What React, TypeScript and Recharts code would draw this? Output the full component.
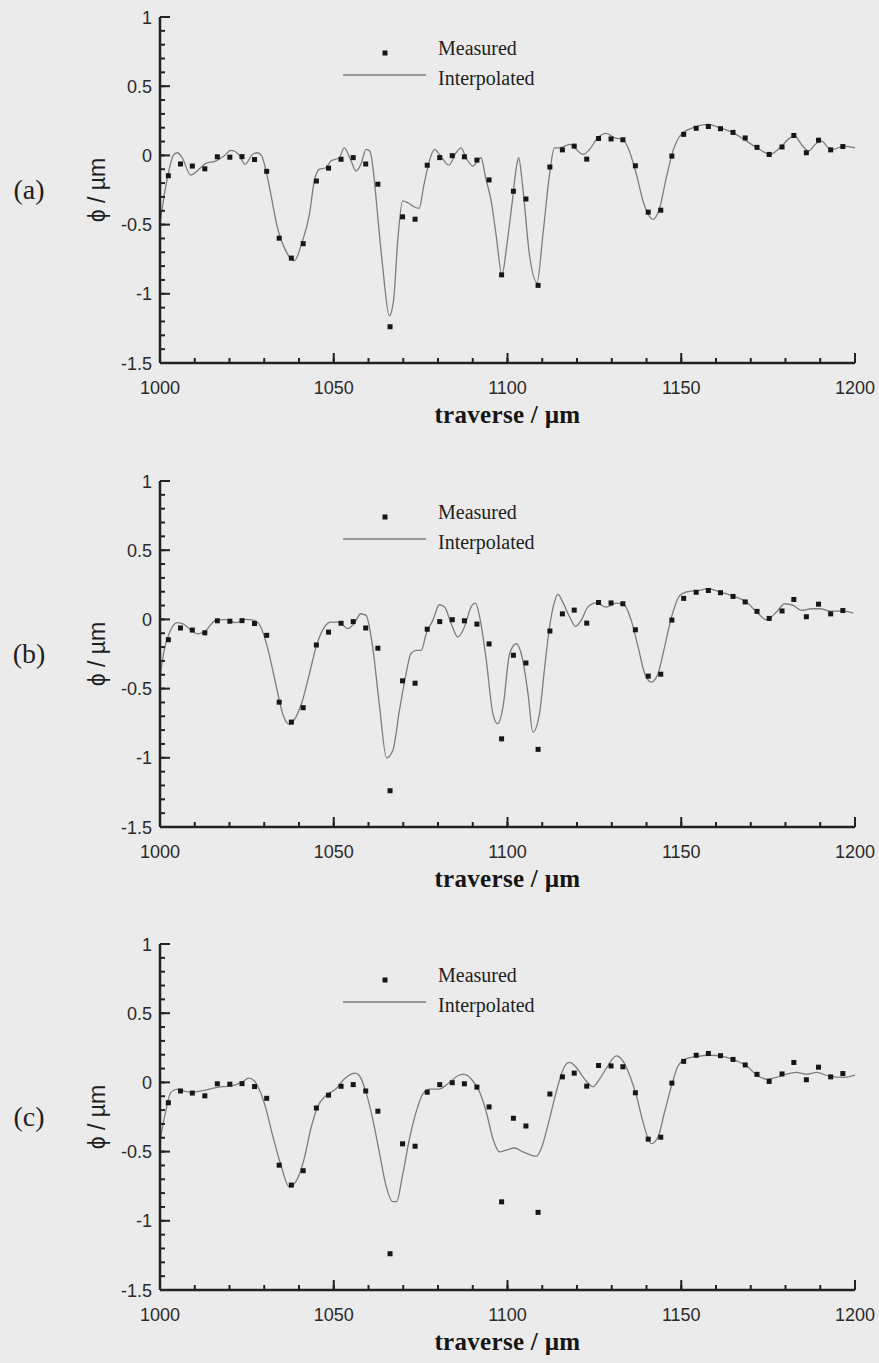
import React from 'react';
import {
    ComposedChart,
    Line,
    Scatter,
    XAxis,
    YAxis,
    Customized,
} from 'recharts';

// measured profile points (same in all three panels)
const traverse = [
    1002.4, 1005.9, 1009.3, 1012.9, 1016.5, 1020.1, 1023.6, 1027.2, 1030.7, 1034.3,
    1037.8, 1041.2, 1045.0, 1048.5, 1052.1, 1055.6, 1059.2, 1062.7, 1066.2, 1069.8,
    1073.4, 1076.9, 1080.5, 1084.1, 1087.6, 1091.2, 1094.7, 1098.3, 1101.7, 1105.3,
    1108.8, 1112.2, 1115.8, 1119.2, 1122.8, 1126.2, 1129.8, 1133.2, 1136.8, 1140.5,
    1144.1, 1147.3, 1150.7, 1154.3, 1157.8, 1161.3, 1164.9, 1168.4, 1171.8, 1175.3,
    1179.0, 1182.4, 1186.0, 1189.5, 1193.0, 1196.5,
];
const measured = [
    -0.147, -0.062, -0.077, -0.097, -0.01, -0.013, -0.009, -0.03, -0.115, -0.598,
    -0.742, -0.638, -0.185, -0.092, -0.028, -0.016, -0.062, -0.208, -1.238, -0.444,
    -0.461, -0.071, -0.016, -0.002, -0.01, -0.034, -0.177, -0.863, -0.259, -0.315,
    -0.939, -0.084, 0.04, 0.067, -0.027, 0.122, 0.119, 0.113, -0.075, -0.41,
    -0.396, -0.005, 0.152, 0.196, 0.209, 0.193, 0.166, 0.126, 0.058, 0.007,
    0.061, 0.144, 0.019, 0.11, 0.04, 0.064,
];

// interpolated curves, [traverse, phi]
const curveA: [number, number][] = [
    [1000, -0.49], [1001.6, -0.233], [1004.0, 0.007], [1005.0, 0.019], [1006.4, -0.017],
    [1008.8, -0.142], [1011.7, -0.089], [1013.2, -0.058], [1016.0, -0.041], [1018.4, -0.005],
    [1020.4, 0.036], [1022.8, 0.002], [1024.5, -0.065], [1026.6, 0.007], [1028.1, 0.019],
    [1029.3, -0.005], [1030.3, -0.089], [1031.9, -0.281], [1033.8, -0.522], [1036.2, -0.69],
    [1038.6, -0.762], [1041.0, -0.618], [1043.0, -0.426], [1044.4, -0.185], [1045.8, -0.101],
    [1047.7, -0.089], [1049.2, -0.041], [1051.6, -0.017], [1053.0, 0.055], [1055.0, -0.041],
    [1056.4, -0.113], [1057.8, -0.065], [1059.3, 0.043], [1060.4, 0.031], [1061.5, -0.137],
    [1062.6, -0.426], [1064.1, -0.81], [1066.0, -1.159], [1067.2, -1.051], [1068.4, -0.618],
    [1069.8, -0.329], [1071.3, -0.342], [1073.2, -0.373], [1074.6, -0.382], [1075.8, -0.233],
    [1077.5, -0.041], [1079.0, 0.043], [1080.4, 0.007], [1083.1, -0.07], [1085.2, 0.019],
    [1086.6, 0.055], [1088.1, -0.017], [1090.0, -0.077], [1092.4, -0.017], [1093.7, -0.161],
    [1095.3, -0.329], [1096.7, -0.57], [1098.4, -0.863], [1099.8, -0.65], [1101.3, -0.35],
    [1102.6, -0.08], [1103.2, -0.017], [1104.4, -0.233], [1106.3, -0.714], [1108.5, -0.919],
    [1110.2, -0.57], [1112.1, -0.137], [1113.5, 0.055], [1115.0, 0.055], [1117.9, 0.079],
    [1119.3, 0.055], [1121.7, 0.007], [1123.6, 0.043], [1126.0, 0.127], [1128.4, 0.159],
    [1130.8, 0.127], [1133.2, 0.115], [1134.7, 0.055], [1137.1, -0.137], [1139.0, -0.329],
    [1141.9, -0.462], [1143.8, -0.378], [1145.7, -0.161], [1147.6, 0.031], [1150.0, 0.152],
    [1153.4, 0.2], [1157.7, 0.224], [1161.1, 0.2], [1164.9, 0.164], [1168.8, 0.103],
    [1172.6, 0.043], [1175.5, 0.007], [1178.4, 0.055], [1181.3, 0.127], [1182.7, 0.139],
    [1184.6, 0.079], [1186.6, 0.031], [1188.5, 0.079], [1190.4, 0.103], [1192.3, 0.055],
    [1193.8, 0.043], [1196.6, 0.067], [1200.0, 0.055],
];

const curveB: [number, number][] = [
    [1000, -0.42], [1001.2, -0.224], [1002.6, -0.104], [1005.0, -0.024], [1006.4, -0.031],
    [1010.8, -0.104], [1013.2, -0.08], [1016.0, -0.007], [1018.9, -0.002], [1021.8, -0.024],
    [1024.7, 0.0], [1027.1, -0.007], [1029.0, -0.055], [1030.9, -0.2], [1033.3, -0.465],
    [1035.3, -0.682], [1037.2, -0.759], [1039.1, -0.706], [1041.0, -0.586], [1043.0, -0.393],
    [1044.9, -0.2], [1047.3, -0.055], [1049.2, -0.019], [1051.6, -0.019], [1054.0, -0.067],
    [1055.9, -0.027], [1057.8, 0.041], [1059.3, 0.029], [1061.2, -0.2], [1063.1, -0.61],
    [1065.2, -1.0], [1067.0, -0.947], [1068.9, -0.658], [1070.8, -0.393], [1072.2, -0.248],
    [1073.7, -0.224], [1075.2, -0.224], [1076.6, -0.104], [1078.5, -0.007], [1080.4, 0.106],
    [1081.9, 0.089], [1083.8, -0.031], [1085.7, -0.128], [1087.6, -0.055], [1089.5, 0.089],
    [1090.8, 0.118], [1092.0, 0.017], [1093.9, -0.296], [1095.8, -0.682], [1097.2, -0.754],
    [1098.7, -0.634], [1100.6, -0.248], [1102.5, -0.176], [1104.4, -0.296], [1105.9, -0.537],
    [1107.3, -0.814], [1109.2, -0.682], [1110.7, -0.345], [1112.1, -0.055], [1113.5, 0.125],
    [1114.5, 0.181], [1115.9, 0.125], [1117.9, 0.017], [1119.6, -0.051], [1121.2, -0.007],
    [1123.1, 0.089], [1125.5, 0.12], [1128.4, 0.089], [1131.3, 0.118], [1133.7, 0.101],
    [1135.6, -0.007], [1137.6, -0.2], [1139.5, -0.393], [1141.4, -0.453], [1143.3, -0.393],
    [1145.2, -0.2], [1147.2, 0.017], [1149.6, 0.173], [1151.5, 0.198], [1155.3, 0.21],
    [1157.7, 0.222], [1161.1, 0.198], [1164.9, 0.169], [1168.8, 0.125], [1171.7, 0.053],
    [1174.5, -0.002], [1177.4, 0.053], [1179.8, 0.113], [1182.2, 0.101], [1184.6, 0.065],
    [1187.5, 0.077], [1189.9, 0.077], [1192.8, 0.06], [1196.6, 0.06], [1199.5, 0.046],
];

const curveC: [number, number][] = [
    [1000, -0.42], [1001.6, -0.215], [1003.1, -0.072], [1005.0, -0.048], [1006.4, -0.06],
    [1009.3, -0.072], [1012.2, -0.06], [1015.1, -0.043], [1018.0, -0.031], [1020.9, -0.024],
    [1023.7, 0.005], [1025.6, 0.031], [1027.1, 0.012], [1028.5, -0.048], [1030.5, -0.191],
    [1032.4, -0.383], [1034.8, -0.598], [1037.2, -0.754], [1039.6, -0.694], [1041.5, -0.55],
    [1043.4, -0.335], [1045.3, -0.179], [1047.7, -0.096], [1050.6, -0.048], [1053.0, 0.024],
    [1055.0, 0.06], [1056.2, 0.067], [1057.4, 0.048], [1059.3, -0.072], [1061.2, -0.263],
    [1063.1, -0.502], [1065.0, -0.742], [1067.0, -0.861], [1068.1, -0.861], [1069.8, -0.67],
    [1071.8, -0.407], [1073.7, -0.215], [1075.6, -0.084], [1077.5, -0.048], [1080.4, -0.048],
    [1083.3, 0.0], [1085.7, 0.048], [1087.1, 0.06], [1088.6, 0.048], [1090.0, 0.012],
    [1092.0, -0.072], [1093.9, -0.215], [1095.8, -0.407], [1097.7, -0.502], [1099.6, -0.49],
    [1102.0, -0.474], [1104.4, -0.502], [1106.8, -0.526], [1108.3, -0.533], [1109.7, -0.478],
    [1112.1, -0.263], [1114.5, -0.024], [1116.4, 0.115], [1117.9, 0.144], [1119.8, 0.108],
    [1122.2, 0.024], [1124.6, -0.031], [1126.5, 0.024], [1128.9, 0.12], [1131.3, 0.191],
    [1133.2, 0.155], [1135.2, 0.048], [1137.1, -0.096], [1139.0, -0.287], [1141.4, -0.443],
    [1143.3, -0.395], [1145.2, -0.215], [1147.2, -0.024], [1149.1, 0.12], [1151.5, 0.172],
    [1154.4, 0.187], [1158.2, 0.196], [1162.1, 0.187], [1165.9, 0.155], [1168.8, 0.12],
    [1171.7, 0.053], [1174.5, 0.024], [1177.4, 0.036], [1180.3, 0.06], [1183.2, 0.072],
    [1186.1, 0.06], [1189.0, 0.072], [1192.8, 0.043], [1196.6, 0.036], [1200.0, 0.053],
];

// axis ticks: every 10 um / 0.1 um, labels on the majors only
const xTicks = [
    1000, 1010, 1020, 1030, 1040, 1050, 1060, 1070, 1080, 1090, 1100,
    1110, 1120, 1130, 1140, 1150, 1160, 1170, 1180, 1190, 1200,
];
const yTicks = [
    -1.5, -1.4, -1.3, -1.2, -1.1, -1, -0.9, -0.8, -0.7, -0.6, -0.5, -0.4, -0.3,
    -0.2, -0.1, 0, 0.1, 0.2, 0.3, 0.4, 0.5, 0.6, 0.7, 0.8, 0.9, 1,
];
const panels = ['(a)', '(b)', '(c)'];

const measuredPts = traverse.map((x, i) => ({ x, phi: measured[i] }));
const toRows = (c: [number, number][]) => c.map(([x, phi]) => ({ x, phi }));
const curves = [toRows(curveA), toRows(curveB), toRows(curveC)];

const W = 879;
const H = 440;
const MARGIN = { top: 17, right: 24, bottom: 7, left: 90 };
const Y_AXIS_W = 70;
const X_AXIS_H = 70;
const PANEL_TOPS = [0, 464, 927];
const INK = '#2a2a2a';
const AXIS = '#222222';
const SANS = '"Liberation Sans", Arial, sans-serif';
const SERIF = '"Liberation Serif", "Times New Roman", serif';
const MINOR = 5;
const MAJOR = 10;

// where the axis lines sit inside each panel
const PLOT_LEFT = MARGIN.left + Y_AXIS_W;
const PLOT_BOTTOM = H - MARGIN.bottom - X_AXIS_H;

// minor ticks come from the axis itself (pointing inward), the custom
// tick adds the longer major mark and its label
const XTick = (props: any) => {
    const x = Number(props.x);
    const v = Number(props.payload.value);
    if (v % 50 !== 0) return <g />;
    return (
        <g>
            <line x1={x} x2={x} y1={PLOT_BOTTOM} y2={PLOT_BOTTOM - MAJOR} stroke={AXIS} strokeWidth={2} />
            <text x={x} y={PLOT_BOTTOM + 31} textAnchor="middle" fontFamily={SANS} fontSize={18} fill={INK}>
                {v}
            </text>
        </g>
    );
};

const YTick = (props: any) => {
    const y = Number(props.y);
    const v = Math.round(Number(props.payload.value) * 10) / 10;
    const major = Math.abs(v * 2 - Math.round(v * 2)) < 1e-6;
    if (!major) return <g />;
    return (
        <g>
            <line x1={PLOT_LEFT} x2={PLOT_LEFT + MAJOR} y1={y} y2={y} stroke={AXIS} strokeWidth={2} />
            <text x={PLOT_LEFT - 8} y={y + 6.5} textAnchor="end" fontFamily={SANS} fontSize={18} fill={INK}>
                {String(v)}
            </text>
        </g>
    );
};

const Square = (props: any) => {
    const { cx, cy } = props;
    if (cx == null || cy == null) return null;
    return <rect x={cx - 2.5} y={cy - 2.5} width={5} height={5} fill="#161616" />;
};

// key in the upper middle of each panel
const Key = () => {
    const t = MARGIN.top;
    return (
        <g>
            <rect x={382.5} y={t + 33.5} width={5} height={5} fill="#161616" />
            <text x={438} y={t + 38} fontFamily={SERIF} fontSize={20} fill="#1e1e1e">Measured</text>
            <line x1={343} x2={426} y1={t + 58} y2={t + 58} stroke="#7d7d7d" strokeWidth={1.3} />
            <text x={438} y={t + 68} fontFamily={SERIF} fontSize={20} fill="#1e1e1e">Interpolated</text>
        </g>
    );
};

const Panel = ({ index }: { index: number }) => {
    const xTitle = (p: any) => {
        const { x, y, width } = p.viewBox;
        return (
            <text x={x + width / 2} y={y + 60} textAnchor="middle" fontFamily={SERIF}
                fontWeight="bold" fontSize={25} letterSpacing={0.3} fill="#151515">
                traverse / µm
            </text>
        );
    };
    const yTitle = (p: any) => {
        const { x, y, height } = p.viewBox;
        const cy = y + height / 2;
        return (
            <g>
                <text x={x + 7} y={cy} transform={`rotate(-90, ${x + 7}, ${cy})`} textAnchor="middle"
                    dominantBaseline="central" fontFamily={`${SANS}, "DejaVu Sans"`} fontSize={23} fill="#1e1e1e">
                    ϕ / µm
                </text>
                <text x={x - 61} y={cy + 9} textAnchor="middle" fontFamily={SERIF} fontSize={28} fill="#1e1e1e">
                    {panels[index]}
                </text>
            </g>
        );
    };

    return (
        <div style={{ position: 'absolute', left: 0, top: PANEL_TOPS[index], width: W, height: H }}>
            <ComposedChart width={W} height={H} margin={MARGIN}>
                <XAxis
                    type="number"
                    dataKey="x"
                    domain={[1000, 1200]}
                    ticks={xTicks}
                    interval={0}
                    height={X_AXIS_H}
                    tickSize={-MINOR}
                    tickMargin={18}
                    tickLine={{ stroke: AXIS, strokeWidth: 2 }}
                    tick={<XTick />}
                    stroke={AXIS}
                    axisLine={{ stroke: AXIS, strokeWidth: 2.5 }}
                    allowDataOverflow
                    label={xTitle}
                />
                <YAxis
                    type="number"
                    dataKey="phi"
                    domain={[-1.5, 1]}
                    ticks={yTicks}
                    interval={0}
                    width={Y_AXIS_W}
                    tickSize={-MINOR}
                    tickMargin={8}
                    tickLine={{ stroke: AXIS, strokeWidth: 2 }}
                    tick={<YTick />}
                    stroke={AXIS}
                    axisLine={{ stroke: AXIS, strokeWidth: 2.5 }}
                    allowDataOverflow
                    label={yTitle}
                />
                <Line
                    data={curves[index]}
                    dataKey="phi"
                    type="monotone"
                    stroke="#7d7d7d"
                    strokeWidth={1.3}
                    dot={false}
                    activeDot={false}
                    isAnimationActive={false}
                />
                <Scatter
                    data={measuredPts}
                    dataKey="phi"
                    shape={<Square />}
                    isAnimationActive={false}
                />
                <Customized component={<Key />} />
            </ComposedChart>
        </div>
    );
}

export default function App() {
    return (
        <div style={{ position: 'absolute', left: 0, top: 0, width: W, height: 1363, overflow: 'hidden', background: '#ebebeb' }}>
            {panels.map((_, i) => (
                <Panel key={i} index={i} />
            ))}
        </div>
    );
}
